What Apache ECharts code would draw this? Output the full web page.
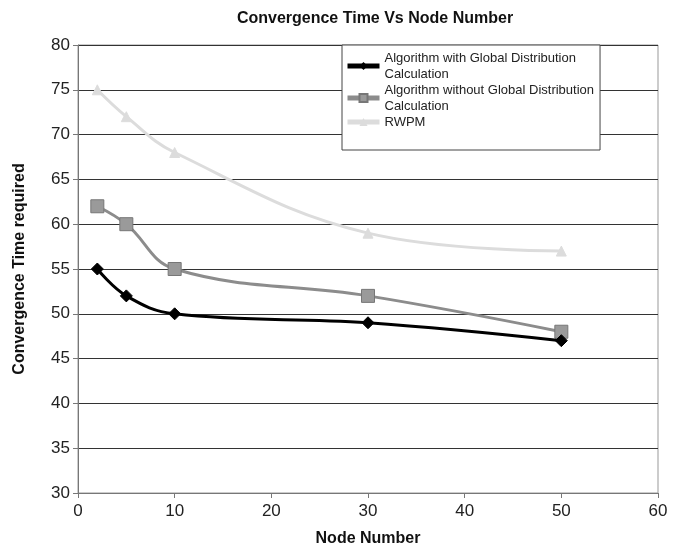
<!DOCTYPE html>
<html>
<head>
<meta charset="utf-8">
<script src="https://cdn.jsdelivr.net/npm/echarts@6/dist/echarts.min.js"></script>
<style>
  html, body { margin: 0; padding: 0; background: #fff; }
  #chart { width: 676px; height: 553px; }
</style>
</head>
<body>
<div id="chart"></div>
<script>
// node counts on the x axis
const nodeNumbers = [2, 5, 10, 30, 50]
// convergence time per series
const withGlobal = [55, 52, 50, 49, 47]
const withoutGlobal = [62, 60, 55, 52, 48]
const rwpm = [75, 72, 68, 59, 57]

const seriesNames = [
  'Algorithm with Global Distribution\nCalculation',
  'Algorithm without Global Distribution\nCalculation',
  'RWPM'
]
const lineColors = ['#000', '#8c8c8c', '#dcdcdc']

const pairs = (ys) => nodeNumbers.map((x, i) => [x, ys[i]])

const chart = echarts.init(document.getElementById('chart'))

const font = 'Liberation Sans, Arial, sans-serif'

chart.setOption({
  animation: false,
  title: {
    text: 'Convergence Time Vs Node Number',
    left: 370,
    top: 6,
    textAlign: 'center',
    textStyle: { fontFamily: font, fontSize: 16, fontWeight: 'bold', color: '#111' }
  },
  grid: { left: 78, right: 18, top: 45, bottom: 60 },
  legend: {
    orient: 'vertical',
    left: 342,
    top: 45,
    padding: [5, 6, 20, 3],
    itemGap: 0,
    itemWidth: 32,
    itemHeight: 10,
    backgroundColor: '#fff',
    borderColor: '#444',
    borderWidth: 1,
    textStyle: { fontFamily: font, fontSize: 13, color: '#222', lineHeight: 16 },
    data: seriesNames.map((name, i) => ({
      name,
      lineStyle: { width: 5, color: lineColors[i] }
    }))
  },
  xAxis: {
    type: 'value',
    min: 0,
    max: 60,
    interval: 10,
    name: 'Node Number',
    nameLocation: 'middle',
    nameGap: 38,
    nameTextStyle: { fontFamily: font, fontSize: 16, fontWeight: 'bold', color: '#111' },
    axisLine: { lineStyle: { color: '#777' } },
    axisTick: { show: true, length: 5, lineStyle: { color: '#777' } },
    axisLabel: { fontFamily: font, fontSize: 17, color: '#222', margin: 10 },
    splitLine: { show: false }
  },
  yAxis: {
    type: 'value',
    min: 30,
    max: 80,
    interval: 5,
    name: 'Convergence Time required',
    nameLocation: 'middle',
    nameGap: 50,
    nameTextStyle: { fontFamily: font, fontSize: 16, fontWeight: 'bold', color: '#111' },
    axisLine: { show: true, lineStyle: { color: '#777' } },
    axisTick: { show: true, length: 5, lineStyle: { color: '#777' } },
    axisLabel: { fontFamily: font, fontSize: 17, color: '#222', margin: 8 },
    splitLine: { show: true, lineStyle: { color: '#333', width: 1 } }
  },
  graphic: [
    {
      type: 'rect',
      shape: { x: 78, y: 45, width: 580, height: 448 },
      style: { fill: 'none', stroke: '#999', lineWidth: 1 },
      silent: true,
      z: -1
    }
  ],
  series: [
    {
      name: seriesNames[0],
      type: 'line',
      smooth: 0.4,
      data: pairs(withGlobal),
      symbol: 'diamond',
      symbolSize: 12,
      lineStyle: { color: lineColors[0], width: 3 },
      itemStyle: { color: '#000', borderColor: '#000' },
      z: 5
    },
    {
      name: seriesNames[1],
      type: 'line',
      smooth: 0.4,
      data: pairs(withoutGlobal),
      symbol: 'rect',
      symbolSize: 13,
      lineStyle: { color: lineColors[1], width: 3 },
      itemStyle: { color: '#9a9a9a', borderColor: '#777', borderWidth: 1 },
      z: 4
    },
    {
      name: seriesNames[2],
      type: 'line',
      smooth: 0.4,
      data: pairs(rwpm),
      symbol: 'triangle',
      symbolSize: 10,
      lineStyle: { color: lineColors[2], width: 3 },
      itemStyle: { color: '#dcdcdc', borderColor: '#dcdcdc' },
      z: 3
    }
  ]
})
</script>
</body>
</html>
